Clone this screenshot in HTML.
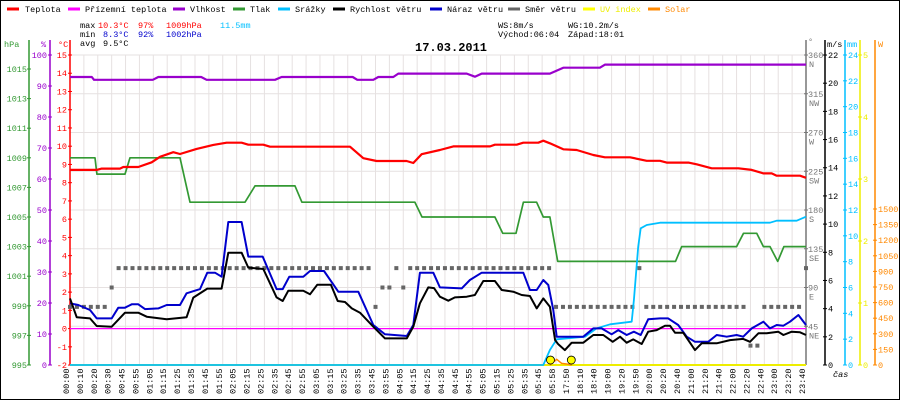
<!DOCTYPE html>
<html><head><meta charset="utf-8"><style>
html,body{margin:0;padding:0;background:#fff;}
svg{display:block;font-family:"Liberation Mono",monospace;}
</style></head><body>
<svg id="chart" width="900" height="400" viewBox="0 0 900 400" xmlns="http://www.w3.org/2000/svg">
<rect x="0.5" y="0.5" width="899" height="399" fill="#fff" stroke="#000"/>
<g id="grid"></g>
<g id="legend" font-size="8.5"></g>
<g font-size="8.5">
<text x="80" y="28" fill="#000">max</text><text x="98" y="28" fill="#f00">10.3°C</text><text x="138" y="28" fill="#f00">97%</text><text x="166" y="28" fill="#f00">1009hPa</text><text x="220" y="28" fill="#00bfff">11.5mm</text>
<text x="80" y="37" fill="#000">min</text><text x="103" y="37" fill="#00c">8.3°C</text><text x="138" y="37" fill="#00c">92%</text><text x="166" y="37" fill="#00c">1002hPa</text>
<text x="80" y="46" fill="#000">avg</text><text x="103" y="46" fill="#000">9.5°C</text>
<text x="498" y="28" fill="#000">WS:8m/s</text><text x="568" y="28" fill="#000">WG:10.2m/s</text>
<text x="498" y="37" fill="#000">Východ:06:04</text><text x="568" y="37" fill="#000">Západ:18:01</text>
</g>
<text x="415" y="51" font-size="12" font-weight="bold" fill="#000">17.03.2011</text>
<g id="axes" font-size="8.5"></g>
<g id="series"></g>
<g id="xlabels" font-size="8.5"></g>
<text x="833" y="377" font-size="8.5" font-style="italic" fill="#000">čas</text>
</svg>
<script>
const xCategories=["00:00","00:10","00:20","00:30","00:45","00:55","01:05","01:15","01:25","01:35","01:45","01:55","02:05","02:15","02:25","02:35","02:45","02:55","03:05","03:15","03:25","03:35","03:45","03:55","04:05","04:15","04:25","04:35","04:45","04:55","05:05","05:15","05:25","05:35","05:45","05:58","17:50","18:10","18:40","19:00","19:20","19:50","20:00","20:20","20:40","21:00","21:20","21:40","22:00","22:20","22:40","23:00","23:20","23:40"];
const tempT=[0,1.92,2.28,3.6,3.84,4.92,5.88,6.48,7.44,7.92,9.12,10.32,11.28,12.36,12.84,13.92,14.4,20.16,21.12,22.08,24.24,24.72,25.32,26.64,27.6,30.25,30.6,32.17,32.64,33.72,34.08,34.56,35.52,36.49,37.68,38.52,40.33,41.53,42.49,42.97,44.53,45.13,46.21,48.13,49.09,49.93,50.53,50.89,52.57,53];
const tempV=[8.70,8.70,8.77,8.77,8.86,8.86,9.12,9.42,9.67,9.57,9.85,10.07,10.19,10.19,10.08,10.08,9.97,9.97,9.34,9.19,9.19,9.08,9.56,9.79,9.99,9.99,10.08,10.08,10.19,10.19,10.30,10.16,9.83,9.79,9.52,9.39,9.39,9.20,9.20,9.10,9.10,9.01,8.79,8.79,8.70,8.51,8.51,8.38,8.38,8.27];
const dewT=[0,53];
const dewV=[0,0];
const humT=[0,1.57,1.73,5.96,6.36,9.45,9.84,14.76,15.24,20.36,20.69,21.84,22.2,23.28,23.64,28.57,29.16,29.65,34.56,35.52,38.16,38.53,53];
const humV=[92.9,92.9,92.0,92.0,92.9,92.9,92.0,92.0,92.9,92.9,92.0,92.0,92.9,92.9,94.0,94.0,93.0,94.0,94.0,95.9,95.9,96.9,96.9];
const presT=[0,1.8,1.94,3.96,4.32,7.92,8.64,12.6,13.32,16.2,16.7,24.84,25.35,30.6,31.16,32.12,32.65,33.6,34.08,34.56,35.12,43.6,44.05,48,48.5,49.45,49.93,50.41,50.96,51.41,53];
const presV=[1009,1009,1007.9,1007.9,1009,1009,1006,1006,1007.1,1007.1,1006,1006,1005,1005,1003.9,1003.9,1006,1006,1005,1005,1002,1002,1003,1003,1003.9,1003.9,1003,1003,1002,1003,1003];
const rainT=[0,34.08,34.56,35.05,37.09,37.93,38.89,40.45,40.61,40.92,41.1,41.53,42.49,50.41,50.89,52.33,53];
const rainV=[0,0,1.16,1.99,2.19,2.84,3.15,3.35,5.03,9.16,10.58,10.84,11.02,11.02,11.17,11.17,11.48];
const speedT=[0,.48,1.44,1.92,3.0,3.96,4.92,5.52,6.96,8.4,8.88,9.89,10.92,11.4,12.36,12.84,13.92,14.88,15.32,15.72,16.8,17.28,17.81,18.79,19.28,19.8,20.29,20.88,21.84,22.68,24.25,24.72,25.2,25.8,26.21,26.64,27.24,27.72,28.57,29.16,29.76,30.6,31.09,31.92,32.53,33.12,33.61,34.08,34.56,34.93,35.16,35.64,36.13,36.96,37.68,38.4,39.08,39.61,40.09,40.56,41.17,41.64,42.25,42.85,43.21,43.57,44.16,45.01,45.49,46.57,47.53,48.48,48.97,49.57,50.17,51.0,51.37,51.97,52.57,53];
const speedV=[4.73,3.39,3.31,2.77,2.72,3.71,3.71,3.43,3.24,3.39,4.78,5.42,5.42,7.97,7.97,6.91,6.81,4.80,4.54,5.27,5.27,5.02,5.70,5.70,4.54,4.47,4.02,3.71,2.72,1.89,1.89,2.72,4.38,5.51,5.46,4.85,4.56,4.80,4.85,4.97,5.96,5.96,5.32,5.20,4.97,4.90,4.02,4.73,4.14,1.77,1.47,1.06,1.58,1.58,2.13,2.13,1.65,2.01,1.58,1.82,1.49,2.36,2.48,2.79,2.79,2.29,2.29,1.06,1.54,1.54,1.77,1.85,1.65,2.25,2.25,2.36,2.13,2.36,2.32,2.13];
const gustT=[0,.6,1.44,1.92,3.0,3.48,3.96,4.44,4.92,5.4,6.36,6.96,7.92,8.4,9.36,9.89,10.44,10.92,11.4,12.36,12.84,13.88,14.88,15.32,15.79,16.8,17.28,18.29,19.32,20.76,21.84,22.68,24.25,24.72,25.2,26.16,26.64,28.21,28.8,29.65,32.64,33.12,33.61,34.08,34.44,34.8,35.05,36.96,37.68,38.28,39.0,39.48,40.09,40.61,41.1,41.64,42.49,43.08,43.8,44.41,45.01,45.96,46.57,47.29,48.0,48.48,49.09,49.93,50.41,50.89,51.37,51.85,52.45,53];
const gustV=[4.38,4.26,3.90,3.31,3.31,4.07,4.07,4.31,4.31,3.97,4.02,4.26,4.26,5.09,5.39,6.55,6.55,6.27,10.15,10.15,7.69,7.69,5.39,5.39,6.27,6.27,6.67,6.67,5.20,5.20,2.84,2.18,2.06,2.84,6.55,6.55,5.51,5.44,6.03,6.55,6.55,5.32,5.32,6.03,5.68,3.90,2.01,2.01,2.60,2.60,2.18,2.48,2.13,2.36,2.13,3.24,3.31,3.31,2.84,2.01,1.65,1.65,2.13,2.01,2.13,2.01,2.60,3.07,2.60,2.84,2.79,3.07,3.55,2.84];
const dirVals=[67.5,67.5,67.5,67.5,67.5,67.5,90,112.5,112.5,112.5,112.5,112.5,112.5,112.5,112.5,112.5,112.5,112.5,112.5,112.5,112.5,112.5,112.5,112.5,112.5,112.5,112.5,112.5,112.5,112.5,112.5,112.5,112.5,112.5,112.5,112.5,112.5,112.5,112.5,112.5,112.5,112.5,112.5,112.5,67.5,90,90,112.5,90,112.5,112.5,112.5,112.5,112.5,112.5,112.5,112.5,112.5,112.5,112.5,112.5,112.5,112.5,112.5,112.5,112.5,112.5,112.5,112.5,112.5,67.5,67.5,67.5,67.5,67.5,67.5,67.5,67.5,67.5,67.5,67.5,67.5,112.5,67.5,67.5,67.5,67.5,67.5,67.5,67.5,67.5,67.5,67.5,67.5,67.5,67.5,67.5,67.5,22.5,22.5,67.5,67.5,67.5,67.5,67.5,67.5,112.5];
const solarT=[34.56,35.05,35.41,35.77,36.13];
const solarV=[0,55,15,10,0];
const uvT=[0,53];
const uvV=[0,0];
const uvMarkT=[34.6,36.1];
const uvMarkV=[0.08,0.08];
const hpaTicks=[995,997,999,1001,1003,1005,1007,1009,1011,1013,1015];
const humTicks=[0,10,20,30,40,50,60,70,80,90,100];
const tempTicks=[-2,-1,0,1,2,3,4,5,6,7,8,9,10,11,12,13,14,15];
const dirTicks=[45,90,135,180,225,270,315,360];
const dirNames=["NE","E","SE","S","SW","W","NW","N"];
const wsTicks=[0,2,4,6,8,10,12,14,16,18,20,22];
const mmTicks=[0,2,4,6,8,10,12,14,16,18,20,22,24];
const uvTicks=[0,1,2,3,4,5];
const solTicks=[0,150,300,450,600,750,900,1050,1200,1350,1500];

const NS="http://www.w3.org/2000/svg";
const X=t=>70+t*736/53;
const yT=c=>328.6-c*18.24;
const yH=h=>365-h*3.1;
const yP=p=>365-(p-995)*14.8;
const yW=v=>365-v*14.09;
const yR=m=>365-m*12.917;
const yD=d=>365-d*310/360;
const yS=w=>365-w*0.104;
const yU=u=>365-u*62;
function mk(tag,attrs,parent){const e=document.createElementNS(NS,tag);for(const k in attrs)e.setAttribute(k,attrs[k]);parent.appendChild(e);return e;}
const grid=document.getElementById('grid'),axes=document.getElementById('axes'),series=document.getElementById('series'),xl=document.getElementById('xlabels'),legend=document.getElementById('legend');

for(let i=0;i<xCategories.length;i++){
 const l=mk('line',{x1:X(i),x2:X(i),y1:55,y2:365,stroke:'#e6e1e1','stroke-width':1},grid);
 
 
 const tx=mk('text',{transform:`translate(${X(i)-1},394) rotate(-90)`,fill:'#000'},xl);
 tx.textContent=xCategories[i];
 
 
}
for(let k=0;k<=8;k++){
 const y=55+k*38.75;
 const l=mk('line',{x1:70,x2:806,y1:y,y2:y,stroke:'#e6e1e1','stroke-width':1},grid);
 
 
}

const legItems=[["Teplota","#f00",7,25],["Přízemní teplota","#f0f",68,85],["Vlhkost","#90c",173,190],["Tlak","#393",233,250],["Srážky","#00bfff",278,295],["Rychlost větru","#000",333,350],["Náraz větru","#00c",430,447],["Směr větru","#666",508,525],["UV index","#ff0",583,600],["Solar","#f80",648,665]];
legItems.forEach(it=>{
 const g=mk('g',{},legend);
 
 
 mk('line',{x1:it[2],x2:it[2]+12,y1:9,y2:9,stroke:it[1],'stroke-width':3},g);
 const t=mk('text',{x:it[3],y:12,fill:(it[0]==="UV index"?'#ee0':(it[0]==="Solar"?'#f80':'#000'))},g);
 t.textContent=it[0];
});

function vAxis(x,color,name,y1){const l=mk('line',{x1:x,x2:x,y1:y1,y2:365,stroke:color,'stroke-width':1.5},axes);}
function label(x,y,txt,color,anchor){const t=mk('text',{x:x,y:y,fill:color,'text-anchor':anchor||'start'},axes);t.textContent=txt;return t;}
function tick(x,y,color){mk('line',{x1:x-2,x2:x+2,y1:y,y2:y,stroke:color},axes);}
vAxis(29,'#393','hpa-axis',40);vAxis(50,'#90c','humidity-axis',40);vAxis(70,'#f00','temp-axis',40);
label(4,47,'hPa','#393');label(41,47,'%','#90c');label(58,47,'°C','#f00');
hpaTicks.forEach(p=>{tick(29,yP(p),'#393');label(27,yP(p)+3,String(p),'#393','end');});
humTicks.forEach(h=>{tick(50,yH(h),'#90c');label(47,yH(h)+3,String(h),'#90c','end');});
tempTicks.forEach(c=>{tick(70,yT(c),'#f00');label(67,yT(c)+3,String(c),'#f00','end');});
vAxis(806,'#777','direction-axis',40);vAxis(825,'#000','wind-axis',40);vAxis(845,'#00bfff','rain-axis',40);vAxis(860,'#ee0','uv-axis',40);vAxis(875,'#f80','solar-axis',40);
label(808,44,'°','#777');label(827,47,'m/s','#000');label(847,47,'mm','#00bfff');label(878,47,'W','#f80');
dirTicks.forEach((d,i)=>{tick(806,yD(d),'#777');label(808,yD(d)+3,String(d),'#777');label(809,yD(d)+12,dirNames[i],'#777');});
wsTicks.forEach(v=>{tick(825,yW(v),'#000');label(828,yW(v)+3,String(v),'#000');});
mmTicks.forEach(m=>{tick(845,yR(m),'#00bfff');label(848,yR(m)+3,String(m),'#00bfff');});
uvTicks.forEach(u=>{tick(860,yU(u),'#ee0');label(863,yU(u)+3,String(u),'#ee0');});
solTicks.forEach(w=>{tick(875,yS(w),'#f80');label(878,yS(w)+3,String(w),'#f80');});
const base=mk('line',{x1:70,x2:806,y1:365,y2:365,stroke:'#000','stroke-width':1},axes);



function line(ts,vs,yf,color,w,name){
 const pts=ts.map((t,i)=>X(t).toFixed(1)+','+yf(vs[i]).toFixed(1)).join(' ');
 const p=mk('polyline',{points:pts,fill:'none',stroke:color,'stroke-width':w,'stroke-linejoin':'round'},series);
 
 
}
line(uvT,uvV,yU,'#ee0',2,'uv-index-line');
line(presT,presV,yP,'#393',1.7,'pressure-line');
line(humT,humV,yH,'#90c',2.2,'humidity-line');
line(tempT,tempV,yT,'#f00',2.2,'temperature-line');
line(dewT,dewV,yT,'#f0f',1.3,'dew-point-line');
dirVals.forEach((d,k)=>{
 if(d===null)return;
 const r=mk('rect',{x:X(k/2)-2,y:yD(d)-2,width:4,height:4,fill:'#666'},series);
 
 
});
line(rainT,rainV,yR,'#00bfff',1.8,'rain-line');
line(gustT,gustV,yW,'#00c',2,'wind-gust-line');
line(speedT,speedV,yW,'#000',2,'wind-speed-line');
line(solarT,solarV,yS,'#f80',1.5,'solar-line');
uvMarkT.forEach((t,i)=>{
 const c=mk('circle',{cx:X(t),cy:yU(uvMarkV[i]),r:4,fill:'#ff0',stroke:'#000','stroke-width':0.8},series);
 
 
});
</script>
</body></html>
